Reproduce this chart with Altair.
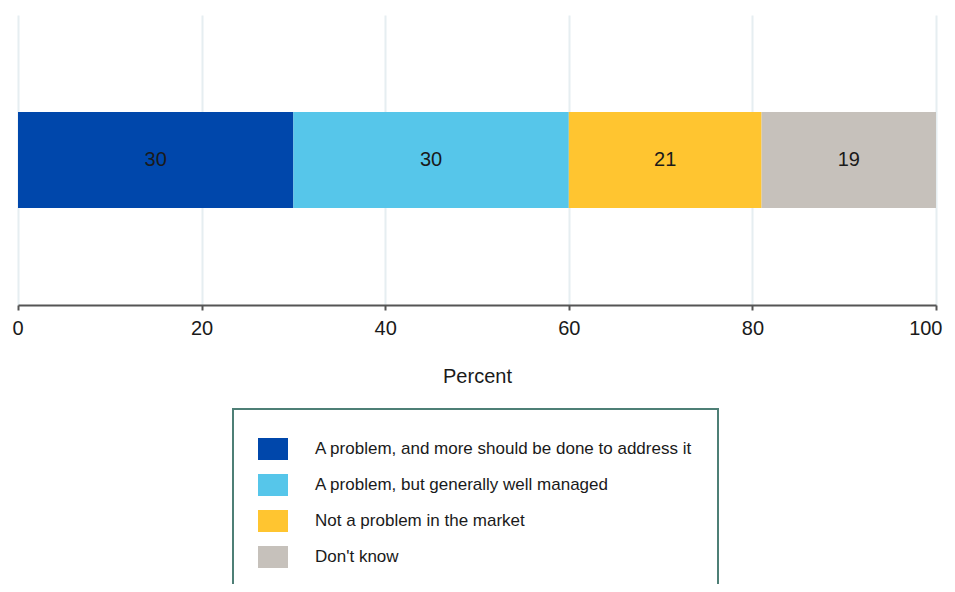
import altair as alt
import pandas as pd

categories = [
    "A problem, and more should be done to address it",
    "A problem, but generally well managed",
    "Not a problem in the market",
    "Don't know",
]
values = [30, 30, 21, 19]
colors = ["#0047ab", "#56c6ea", "#ffc530", "#c6c1bb"]
ticks = [0, 20, 40, 60, 80, 100]

df = pd.DataFrame({
    "q": ["All"] * len(categories),
    "cat": categories,
    "value": values,
    "idx": list(range(len(categories))),
})

FONT = "Liberation Sans"

base = alt.Chart(df).transform_stack(
    stack="value", groupby=["q"], as_=["x0", "x1"],
    sort=[alt.SortField("idx", order="ascending")],
).transform_calculate(mid="(datum.x0 + datum.x1) / 2")

bars = base.mark_bar(size=96).encode(
    x=alt.X("x0:Q", scale=alt.Scale(domain=[0, 100], nice=False),
            axis=alt.Axis(values=ticks, title="Percent", grid=True,
                          labelFlush=True, labelFlushOffset=6)),
    x2="x1:Q",
    y=alt.Y("q:N", axis=None),
    color=alt.Color("cat:N",
                    scale=alt.Scale(domain=categories, range=colors),
                    sort=categories,
                    legend=alt.Legend(
                        title=None, orient="none", legendX=215, legendY=394,
                        direction="vertical",
                        symbolType="M-1,-0.733H1V0.733H-1Z",
                        symbolSize=900, symbolStrokeWidth=0, symbolOpacity=1,
                        labelFontSize=17, labelColor="#1a1a1a", labelFont=FONT,
                        labelOffset=27, rowPadding=10, padding=25,
                        strokeColor="#4e7f76", labelLimit=600,
                    )),
)

labels = base.mark_text(fontSize=20, font=FONT, color="#1a1a1a").encode(
    x="mid:Q",
    y=alt.Y("q:N", axis=None),
    text=alt.Text("value:Q", format=".0f"),
)

chart = (bars + labels).properties(
    width=918, height=290,
    autosize=alt.AutoSizeParams(type="none"),
    padding={"left": 10, "top": 7, "right": 11, "bottom": 279},
).configure_view(stroke=None).configure_axis(
    domainColor="#555555", domainWidth=2,
    tickColor="#555555", tickWidth=2, tickSize=5,
    labelFontSize=20, labelFont=FONT, labelColor="#1a1a1a", labelPadding=8,
    titleFontSize=20, titleFont=FONT, titleColor="#1a1a1a",
    titleFontWeight="normal", titlePadding=28,
    gridColor="#e6eef1", gridWidth=2,
).configure_legend(strokeWidth=2)

chart.save("out.html", embed_options={"renderer": "svg", "actions": False})
